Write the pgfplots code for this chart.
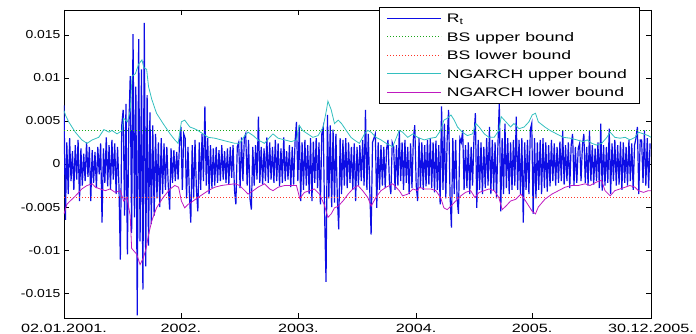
\documentclass[border=0pt]{standalone}
\usepackage{fontspec}
\setmainfont{Liberation Sans}
\newfontfamily\legfont{Liberation Sans}[FakeStretch=1.42]
\newfontfamily\xfont{Liberation Sans}[FakeStretch=1.35]
\newfontfamily\yfont{Liberation Sans}[FakeStretch=1.2]
\usepackage{pgfplots}
\pgfplotsset{compat=1.18}
\definecolor{rtblue}{rgb}{0.05,0.05,0.9}
\definecolor{ngup}{rgb}{0.2,0.75,0.75}
\definecolor{nglo}{rgb}{0.75,0.1,0.75}
\definecolor{bsup}{rgb}{0.1,0.65,0.1}
\definecolor{bslo}{rgb}{1,0.2,0.15}
\begin{document}
\begin{tikzpicture}
\begin{axis}[
  width=587pt, height=308pt, scale only axis,
  xmin=0, xmax=1250, ymin=-0.0179, ymax=0.0179,
  xtick={0,249,499,750,997,1250},
  xticklabels={02.01.2001.,2002.,2003.,2004.,2005.,30.12.2005.},
  ytick={-0.015,-0.01,-0.005,0,0.005,0.01,0.015},
  yticklabels={-0.015,-0.01,-0.005,0,0.005,0.01,0.015},
  scaled y ticks=false,
  tick align=inside, major tick length=5pt,
  tick style={black, line width=0.6pt},
  axis line style={black, line width=0.8pt},
  xticklabel style={font=\xfont\fontsize{12}{12}\selectfont, yshift=-3pt},
  yticklabel style={font=\yfont\fontsize{11.6}{12}\selectfont},
  legend style={at={(0.981,1.0097)}, anchor=north east, draw=black, line width=0.6pt,
    font=\legfont\fontsize{12.4}{13}\selectfont, inner xsep=7pt, inner ysep=2pt, row sep=0.6pt,
    nodes={inner xsep=5.5pt, inner ysep=1pt, text height=12.3pt, text depth=3.6pt},
    legend cell align=left},
  legend image code/.code={\draw[#1, line width=0.75pt] (0pt,0pt) -- (54pt,0pt);},
]
\addplot[rtblue, line width=1.2pt] coordinates {
(0,0.0068)(3,-0.0065)(6,0.0025)(9,-0.0035)(12,0.0030)(15,-0.0020)(18,0.0015)(21,-0.0030)(24,0.0022)(27,-0.0018)
(30,0.0028)(33,-0.0043)(36,0.0018)(39,-0.0025)(42,0.0012)(45,-0.0020)(48,0.0025)(51,-0.0015)(54,0.0020)(57,-0.0043)
(60,0.0016)(63,-0.0022)(66,0.0014)(69,-0.0028)(72,0.0020)(75,-0.0012)(78,0.0024)(81,-0.0068)(84,0.0018)(87,-0.0022)
(90,0.0031)(93,-0.0026)(96,0.0022)(99,-0.0030)(102,0.0028)(105,-0.0018)(108,0.0024)(111,-0.0035)(114,0.0020)(117,-0.0025)
(120,-0.0111)(123,0.0045)(126,0.0063)(129,-0.0060)(132,0.0070)(135,-0.0105)(138,0.0040)(141,0.0102)(144,-0.0080)(147,0.0151)
(150,-0.0062)(153,0.0090)(156,-0.0176)(159,0.0145)(162,-0.0090)(165,0.0110)(168,-0.0146)(171,0.0164)(174,-0.0119)(177,0.0080)
(180,-0.0095)(183,0.0060)(186,-0.0070)(189,0.0045)(192,-0.0060)(195,0.0035)(198,-0.0040)(201,0.0025)(204,-0.0050)(207,0.0030)
(210,-0.0035)(213,0.0024)(216,-0.0030)(219,0.0020)(222,-0.0025)(225,-0.0053)(228,0.0018)(231,-0.0022)(234,0.0016)(237,-0.0020)
(240,0.0014)(243,-0.0018)(246,0.0025)(249,0.0043)(252,-0.0030)(255,0.0035)(258,0.0030)(261,-0.0040)(264,0.0020)(267,-0.0035)
(270,-0.0068)(273,0.0022)(276,-0.0040)(279,0.0028)(282,-0.0030)(285,-0.0055)(288,0.0025)(291,-0.0030)(294,0.0035)(297,-0.0020)
(300,0.0067)(303,-0.0025)(306,0.0030)(309,-0.0035)(312,0.0022)(315,-0.0028)(318,0.0018)(321,-0.0025)(324,0.0020)(327,-0.0022)
(330,0.0016)(333,-0.0020)(336,0.0022)(339,-0.0018)(342,0.0015)(345,-0.0022)(348,0.0018)(351,-0.0024)(354,0.0020)(357,-0.0016)
(360,0.0022)(363,-0.0030)(366,-0.0047)(369,0.0020)(372,0.0025)(375,-0.0028)(378,0.0031)(381,-0.0020)(384,0.0030)(387,0.0035)
(390,-0.0025)(393,0.0028)(396,-0.0040)(399,-0.0053)(402,0.0020)(405,-0.0025)(408,0.0022)(411,-0.0018)(414,0.0055)(417,-0.0022)
(420,0.0020)(423,-0.0024)(426,0.0018)(429,-0.0020)(432,0.0031)(435,-0.0022)(438,0.0025)(441,-0.0018)(444,0.0020)(447,-0.0022)
(450,0.0028)(453,-0.0020)(456,0.0024)(459,-0.0026)(462,0.0018)(465,-0.0022)(468,0.0031)(471,-0.0020)(474,0.0015)(477,-0.0018)
(480,0.0022)(483,-0.0027)(486,0.0020)(489,-0.0024)(492,0.0025)(495,0.0049)(498,-0.0020)(501,0.0045)(504,-0.0043)(507,0.0025)
(510,-0.0030)(513,0.0028)(516,-0.0025)(519,0.0022)(522,-0.0035)(525,0.0030)(528,-0.0043)(531,0.0026)(534,-0.0022)(537,0.0030)
(540,-0.0028)(543,0.0025)(546,-0.0047)(549,0.0035)(552,0.0043)(555,-0.0060)(558,-0.0137)(561,0.0057)(564,-0.0040)(567,0.0045)
(570,-0.0050)(573,0.0040)(576,-0.0045)(579,0.0035)(582,-0.0038)(585,-0.0076)(588,0.0030)(591,-0.0035)(594,0.0028)(597,-0.0025)
(600,0.0030)(603,-0.0028)(606,0.0025)(609,-0.0022)(612,0.0020)(615,-0.0030)(618,0.0024)(621,-0.0043)(624,0.0020)(627,-0.0025)
(630,0.0022)(633,-0.0020)(636,0.0028)(639,-0.0025)(642,0.0063)(645,-0.0030)(648,0.0035)(651,-0.0028)(654,-0.0082)(657,0.0025)
(660,0.0030)(663,0.0035)(666,-0.0051)(669,0.0025)(672,-0.0030)(675,0.0022)(678,-0.0025)(681,0.0020)(684,-0.0028)(687,0.0018)
(690,0.0028)(693,-0.0022)(696,-0.0035)(699,0.0025)(702,0.0020)(705,-0.0030)(708,0.0022)(711,-0.0025)(714,0.0039)(717,-0.0020)
(720,0.0025)(723,-0.0030)(726,0.0028)(729,-0.0022)(732,0.0020)(735,-0.0035)(738,0.0024)(741,-0.0028)(744,0.0030)(747,0.0045)
(750,-0.0025)(753,-0.0043)(756,0.0030)(759,-0.0028)(762,0.0025)(765,-0.0030)(768,0.0022)(771,-0.0026)(774,0.0028)(777,-0.0024)
(780,0.0030)(783,-0.0028)(786,0.0025)(789,-0.0033)(792,0.0027)(795,-0.0030)(798,0.0022)(801,-0.0047)(804,0.0067)(807,-0.0030)
(810,0.0047)(813,-0.0040)(816,0.0030)(819,0.0063)(822,-0.0035)(825,-0.0074)(828,0.0030)(831,-0.0035)(834,0.0028)(837,-0.0040)
(840,-0.0058)(843,0.0030)(846,0.0025)(849,0.0039)(852,-0.0030)(855,0.0022)(858,-0.0028)(861,0.0025)(864,-0.0035)(867,0.0020)
(870,-0.0025)(873,0.0030)(876,0.0059)(879,-0.0051)(882,0.0028)(885,-0.0030)(888,0.0025)(891,-0.0035)(894,0.0020)(897,-0.0028)
(900,0.0030)(903,-0.0025)(906,0.0043)(909,-0.0035)(912,0.0028)(915,-0.0030)(918,0.0025)(921,-0.0040)(924,0.0022)(927,0.0071)
(930,-0.0055)(933,0.0030)(936,-0.0035)(939,0.0047)(942,-0.0028)(945,0.0030)(948,-0.0035)(951,0.0025)(954,-0.0030)(957,0.0028)
(960,-0.0025)(963,0.0055)(966,-0.0030)(969,0.0028)(972,-0.0035)(975,0.0030)(978,-0.0068)(981,0.0025)(984,-0.0030)(987,0.0028)
(990,-0.0035)(993,0.0040)(996,0.0047)(999,-0.0058)(1002,0.0030)(1005,-0.0040)(1008,0.0025)(1011,-0.0030)(1014,0.0028)(1017,-0.0035)
(1020,0.0030)(1023,-0.0028)(1026,0.0025)(1029,-0.0032)(1032,0.0022)(1035,-0.0026)(1038,0.0028)(1041,-0.0020)(1044,0.0024)(1047,-0.0025)
(1050,0.0020)(1053,-0.0022)(1056,0.0026)(1059,-0.0020)(1062,0.0039)(1065,-0.0024)(1068,0.0022)(1071,-0.0020)(1074,0.0025)(1077,-0.0028)
(1080,0.0022)(1083,0.0035)(1086,-0.0025)(1089,0.0020)(1092,-0.0022)(1095,0.0018)(1098,0.0024)(1101,-0.0020)(1104,0.0022)(1107,0.0035)
(1110,-0.0022)(1113,0.0020)(1116,-0.0025)(1119,0.0039)(1122,-0.0020)(1125,0.0022)(1128,-0.0024)(1131,0.0018)(1134,-0.0020)(1137,0.0025)
(1140,-0.0028)(1143,0.0047)(1146,-0.0031)(1149,0.0022)(1152,-0.0025)(1155,0.0020)(1158,-0.0022)(1161,0.0041)(1164,-0.0035)(1167,0.0024)
(1170,-0.0020)(1173,0.0028)(1176,-0.0025)(1179,0.0022)(1182,-0.0024)(1185,0.0026)(1188,-0.0030)(1191,0.0025)(1194,-0.0022)(1197,0.0020)
(1200,-0.0025)(1203,0.0028)(1206,-0.0020)(1209,0.0024)(1212,-0.0030)(1215,0.0022)(1218,0.0030)(1221,0.0043)(1224,-0.0035)(1227,0.0028)
(1230,0.0028)(1233,-0.0022)(1236,0.0039)(1239,-0.0025)(1242,0.0030)(1245,-0.0028)(1248,0.0024)
};
\addlegendentry{R\textsubscript{t}}
\addplot[bsup, line width=0.9pt, dash pattern=on 1pt off 2pt] coordinates {(0,0.0039)(1250,0.0039)};
\addlegendentry{BS upper bound}
\addplot[bslo, line width=0.9pt, dash pattern=on 1pt off 2pt] coordinates {(0,-0.0039)(1250,-0.0039)};
\addlegendentry{BS lower bound}
\addplot[ngup, line width=0.8pt] coordinates {
(0,0.0062)(3,0.0057)(10,0.0049)(24,0.0037)(38,0.0028)(49,0.0024)(60,0.0028)(74,0.0031)(85,0.0040)(96,0.0037)
(102,0.0039)(113,0.0035)(124,0.0039)(127,0.0053)(135,0.0049)(141,0.0062)(145,0.0102)(152,0.0105)(159,0.0116)(166,0.0121)
(170,0.0112)(176,0.0110)(180,0.0090)(187,0.0075)(197,0.0059)(211,0.0047)(226,0.0035)(236,0.0028)(243,0.0024)(250,0.0049)
(257,0.0051)(268,0.0043)(278,0.0041)(285,0.0039)(296,0.0035)(307,0.0031)(321,0.0030)(335,0.0028)(349,0.0026)(364,0.0024)
(374,0.0024)(385,0.0033)(392,0.0037)(403,0.0033)(413,0.0028)(427,0.0024)(438,0.0031)(445,0.0035)(456,0.0030)(470,0.0028)
(484,0.0026)(495,0.0028)(501,0.0045)(508,0.0039)(519,0.0035)(530,0.0031)(541,0.0033)(552,0.0043)(559,0.0063)(562,0.0073)
(569,0.0063)(576,0.0047)(584,0.0051)(591,0.0047)(601,0.0039)(611,0.0031)(618,0.0028)(629,0.0024)(640,0.0035)(647,0.0039)
(654,0.0037)(664,0.0031)(675,0.0028)(686,0.0024)(700,0.0020)(714,0.0039)(721,0.0037)(732,0.0031)(743,0.0035)(753,0.0031)
(767,0.0028)(781,0.0030)(792,0.0031)(802,0.0039)(809,0.0051)(816,0.0053)(824,0.0057)(831,0.0051)(838,0.0043)(848,0.0037)
(859,0.0033)(870,0.0035)(877,0.0047)(884,0.0043)(895,0.0035)(905,0.0031)(916,0.0031)(926,0.0039)(931,0.0055)(941,0.0049)
(951,0.0043)(958,0.0047)(969,0.0041)(980,0.0043)(990,0.0049)(997,0.0057)(1004,0.0059)(1010,0.0049)(1024,0.0043)(1035,0.0039)
(1049,0.0035)(1063,0.0031)(1078,0.0030)(1092,0.0028)(1106,0.0026)(1114,0.0028)(1124,0.0024)(1134,0.0022)(1145,0.0024)(1156,0.0031)
(1163,0.0037)(1173,0.0031)(1184,0.0030)(1195,0.0031)(1205,0.0028)(1216,0.0031)(1223,0.0037)(1234,0.0035)(1244,0.0033)(1250,0.0031)
};
\addlegendentry{NGARCH upper bound}
\addplot[nglo, line width=0.8pt] coordinates {
(0,-0.0058)(6,-0.0047)(13,-0.0043)(21,-0.0039)(28,-0.0035)(38,-0.0029)(49,-0.0025)(60,-0.0023)(67,-0.0027)(77,-0.0029)
(88,-0.0031)(98,-0.0029)(109,-0.0033)(120,-0.0031)(127,-0.0043)(134,-0.0039)(141,-0.0060)(144,-0.0098)(155,-0.0105)(162,-0.0117)
(169,-0.0109)(175,-0.0098)(180,-0.0082)(187,-0.0066)(197,-0.0051)(211,-0.0039)(226,-0.0029)(236,-0.0025)(244,-0.0027)(250,-0.0043)
(257,-0.0051)(264,-0.0047)(275,-0.0043)(285,-0.0039)(296,-0.0035)(307,-0.0031)(321,-0.0027)(335,-0.0025)(349,-0.0024)(364,-0.0023)
(374,-0.0025)(385,-0.0031)(392,-0.0035)(403,-0.0031)(413,-0.0027)(427,-0.0023)(438,-0.0029)(445,-0.0031)(456,-0.0027)(470,-0.0025)
(484,-0.0025)(495,-0.0025)(502,-0.0040)(512,-0.0033)(523,-0.0031)(533,-0.0029)(544,-0.0035)(554,-0.0047)(562,-0.0062)(569,-0.0058)
(576,-0.0051)(584,-0.0049)(594,-0.0043)(605,-0.0035)(615,-0.0029)(626,-0.0025)(636,-0.0031)(647,-0.0039)(654,-0.0049)(664,-0.0039)
(675,-0.0031)(686,-0.0027)(700,-0.0023)(714,-0.0031)(721,-0.0037)(732,-0.0035)(743,-0.0029)(753,-0.0031)(757,-0.0027)(767,-0.0029)
(781,-0.0029)(792,-0.0031)(802,-0.0039)(809,-0.0051)(816,-0.0053)(824,-0.0049)(834,-0.0043)(845,-0.0037)(855,-0.0033)(866,-0.0031)
(875,-0.0039)(884,-0.0033)(895,-0.0031)(905,-0.0029)(916,-0.0031)(926,-0.0039)(933,-0.0053)(941,-0.0049)(951,-0.0043)(962,-0.0041)
(973,-0.0035)(983,-0.0043)(990,-0.0049)(997,-0.0055)(1004,-0.0058)(1010,-0.0050)(1024,-0.0041)(1039,-0.0035)(1053,-0.0031)(1067,-0.0027)
(1081,-0.0025)(1095,-0.0025)(1110,-0.0023)(1120,-0.0025)(1134,-0.0021)(1145,-0.0019)(1152,-0.0031)(1163,-0.0037)(1173,-0.0031)(1184,-0.0029)
(1195,-0.0027)(1205,-0.0025)(1216,-0.0027)(1223,-0.0031)(1234,-0.0033)(1244,-0.0031)(1250,-0.0031)
};
\addlegendentry{NGARCH lower bound}
\coordinate (ll) at (rel axis cs:0,0);
\coordinate (ur) at (rel axis cs:1,1);
\end{axis}
\pgfresetboundingbox
\path ([shift={(-64pt,-16pt)}]ll) rectangle ([shift={(45pt,10pt)}]ur);
\end{tikzpicture}
\end{document}
